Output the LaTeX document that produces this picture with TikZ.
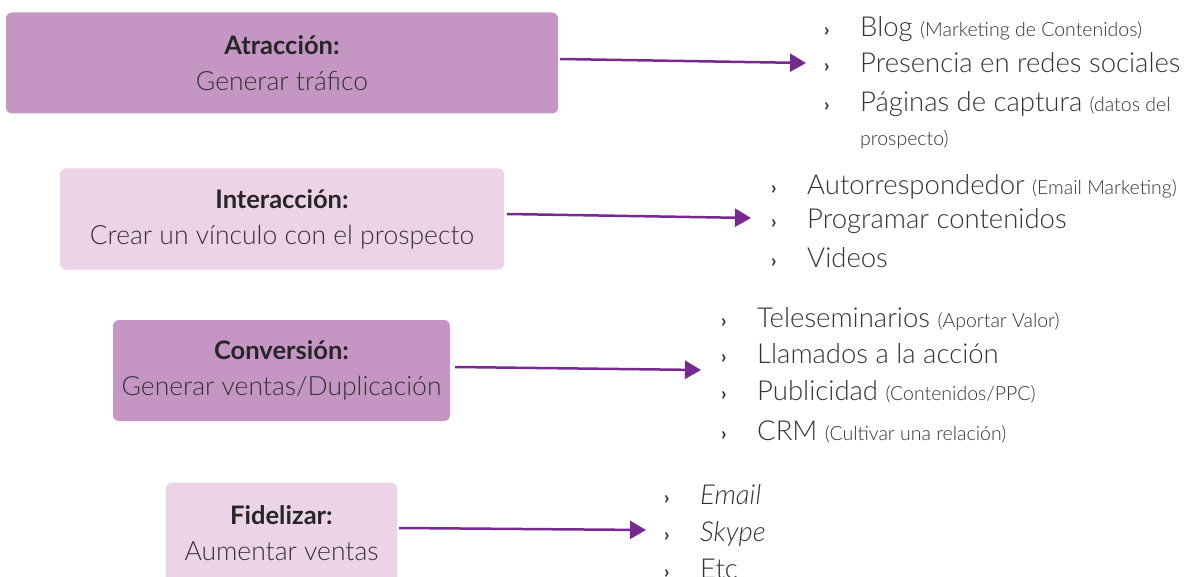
\documentclass[tikz,border=0pt]{standalone}
\usepackage{fontspec}
\setmainfont{Lato Light}[BoldFont={Lato Bold}]
\usepackage{xcolor}
\definecolor{malva}{HTML}{C596C4}
\definecolor{rosa}{HTML}{EDD3E7}
\definecolor{morado}{HTML}{762A8F}
\definecolor{textgray}{HTML}{333333}
\usetikzlibrary{arrows.meta}

\newcommand{\vineta}{\makebox[36pt][l]{\fontsize{19}{20}\selectfont\bfseries ›}}
\newcommand{\nota}[1]{{\fontsize{19.5}{22}\selectfont #1}}
\newcommand{\cabeza}[1]{{\fontsize{25.5}{36}\selectfont\bfseries\color{black!85}#1}}

\begin{document}
\begin{tikzpicture}[x=1pt, y=1pt,
    etapa/.style={rounded corners=6pt, minimum height=101pt, align=center,
      text=textgray, inner sep=0pt, font=\fontsize{26.5}{36}\selectfont},
    oscura/.style={etapa, fill=malva},
    clara/.style={etapa, fill=rosa},
    punto/.style={anchor=base west, inner sep=0pt, text=textgray,
      font=\fontsize{27.5}{30}\selectfont},
    flecha/.style={draw=morado, line width=2.5pt,
      -{Triangle[length=16pt, width=18pt]}}
]
  \useasboundingbox (0,0) rectangle (1190,-577);

  % Etapas
  \node[oscura, minimum width=552pt] (atr) at (282,-63)
    {\cabeza{Atracción:}\\Generar tráfico};
  \node[clara, minimum width=444pt] (inter) at (282,-219)
    {\cabeza{Interacción:}\\Crear un vínculo con el prospecto};
  \node[oscura, minimum width=337pt] (conv) at (281.5,-370.5)
    {\cabeza{Conversión:}\\Generar ventas/Duplicación};
  \node[clara, minimum width=231pt] (fid) at (281.5,-533)
    {\cabeza{Fidelizar:}\\Aumentar ventas};

  % Atracción
  \node[punto] (blog) at (824,-37) {\vineta Blog \nota{(Marketing de Contenidos)}};
  \node[punto] (redes) at (824,-73) {\vineta Presencia en redes sociales};
  \node[punto] (captura) at (824,-112) {\vineta Páginas de captura \nota{(datos del}};
  \node[punto] (datos) at (860,-146) {\nota{prospecto)}};

  % Interacción
  \node[punto] (auto) at (771,-195) {\vineta Autorrespondedor \nota{(Email Marketing)}};
  \node[punto] (progr) at (771,-229) {\vineta Programar contenidos};
  \node[punto] (videos) at (771,-267) {\vineta Videos};

  % Conversión
  \node[punto] (tele) at (721,-327) {\vineta Teleseminarios \nota{(Aportar Valor)}};
  \node[punto] (llam) at (721,-363) {\vineta Llamados a la acción};
  \node[punto] (publi) at (721,-400) {\vineta Publicidad \nota{(Contenidos/PPC)}};
  \node[punto] (crm) at (721,-440) {\vineta CRM \nota{(Cultivar una relación)}};

  % Fidelizar
  \node[punto] (email) at (664,-504) {\vineta\textit{Email}};
  \node[punto] (skype) at (664,-541) {\vineta\textit{Skype}};
  \node[punto] (etc) at (664,-578) {\vineta Etc};

  % Flechas
  \coordinate (f1) at (806,-63);
  \coordinate (f2) at (751,-218);
  \coordinate (f3) at (701,-370);
  \coordinate (f4) at (646,-530);
  \draw[flecha] ([xshift=2pt, yshift=4pt]atr.east) -- (f1);
  \draw[flecha] ([xshift=3pt, yshift=5pt]inter.east) -- (f2);
  \draw[flecha] ([xshift=5pt, yshift=3.5pt]conv.east) -- (f3);
  \draw[flecha] ([xshift=2pt, yshift=5pt]fid.east) -- (f4);

\end{tikzpicture}
\end{document}
